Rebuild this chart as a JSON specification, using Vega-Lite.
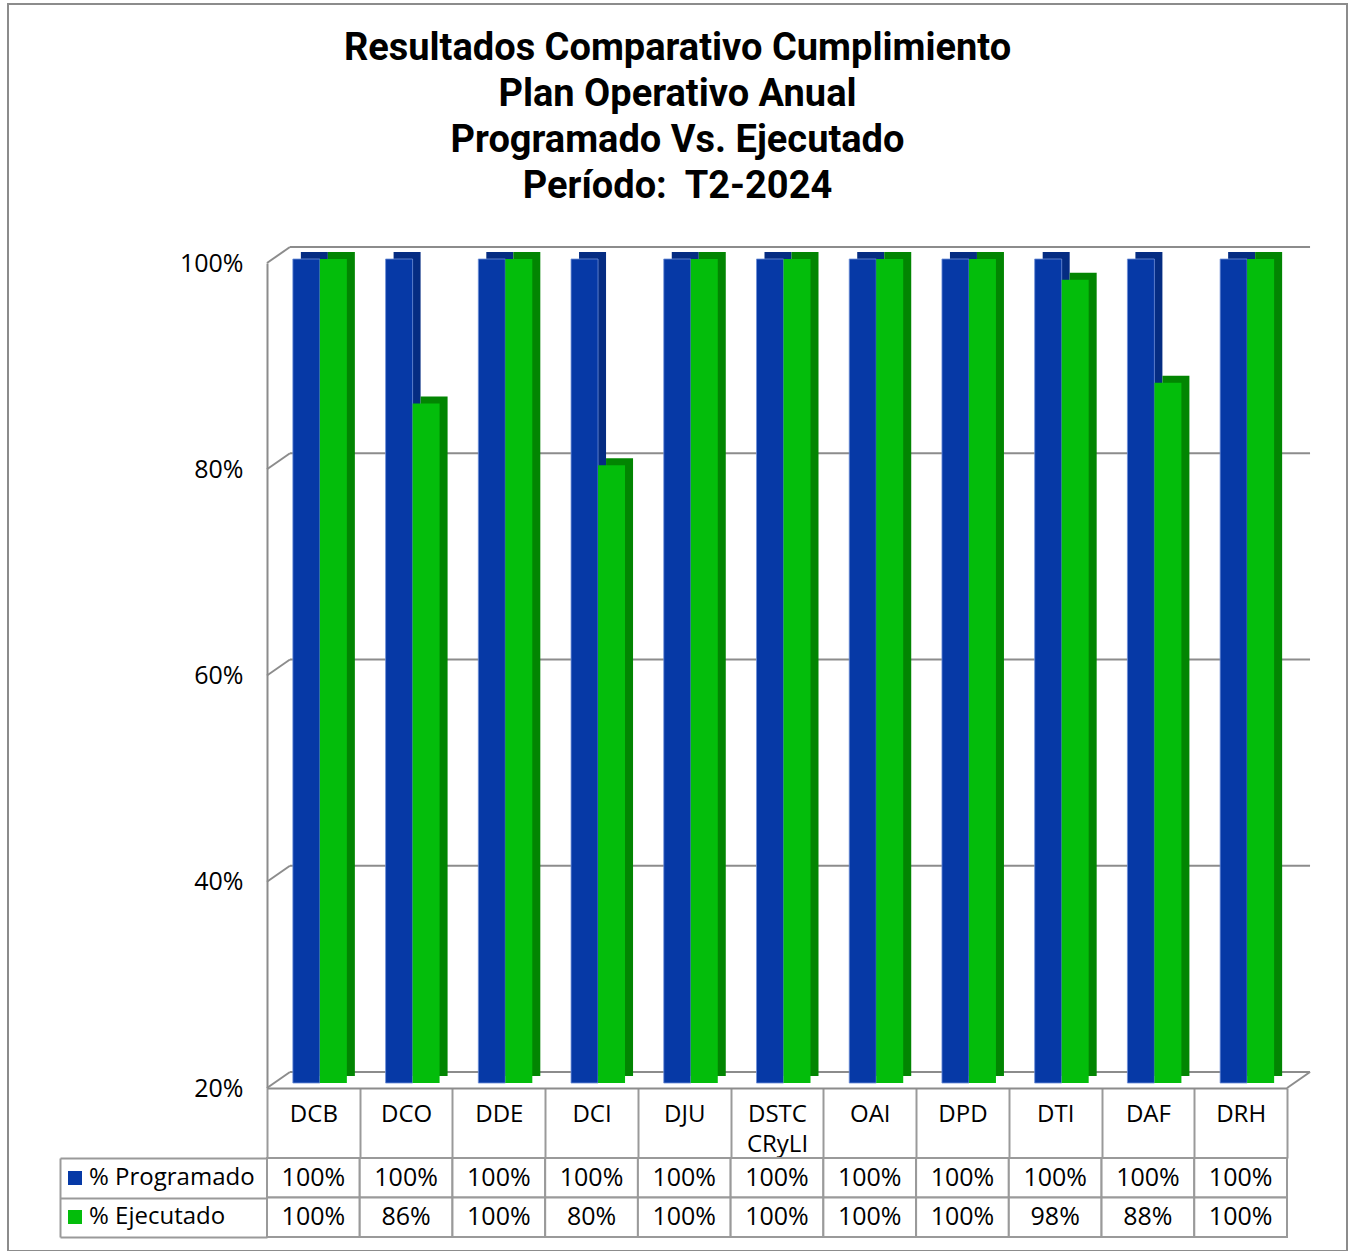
{
  "$schema": "https://vega.github.io/schema/vega-lite/v6.json",
  "width": 1339,
  "height": 1247,
  "autosize": {"type": "none"},
  "padding": {"left": 8, "top": 4, "right": 10, "bottom": 0},
  "background": "white",
  "title": {
    "text": ["Resultados Comparativo Cumplimiento", "Plan Operativo Anual", "Programado Vs. Ejecutado", "Período:\u00a0 T2-2024"],
    "font": "Roboto",
    "fontSize": 38,
    "fontWeight": "bold",
    "color": "black",
    "lineHeight": 46,
    "anchor": "middle",
    "frame": "group",
    "baseline": "bottom",
    "offset": -240
  },
  "config": {
    "view": {"stroke": "#8C8C8C", "strokeWidth": 2},
    "font": "Open Sans",
    "axis": {
      "domainColor": "#8C8C8C",
      "domainWidth": 2,
      "tickColor": "#9A9A9A",
      "tickWidth": 2,
      "labelFont": "Open Sans",
      "labelFontSize": 24,
      "labelColor": "black",
      "grid": false,
      "title": null
    }
  },
  "data": {
    "values": [
      {"cat": "DCB", "serie": "% Programado", "valor": 1.0},
      {"cat": "DCO", "serie": "% Programado", "valor": 1.0},
      {"cat": "DDE", "serie": "% Programado", "valor": 1.0},
      {"cat": "DCI", "serie": "% Programado", "valor": 1.0},
      {"cat": "DJU", "serie": "% Programado", "valor": 1.0},
      {"cat": "DSTC CRyLI", "serie": "% Programado", "valor": 1.0},
      {"cat": "OAI", "serie": "% Programado", "valor": 1.0},
      {"cat": "DPD", "serie": "% Programado", "valor": 1.0},
      {"cat": "DTI", "serie": "% Programado", "valor": 1.0},
      {"cat": "DAF", "serie": "% Programado", "valor": 1.0},
      {"cat": "DRH", "serie": "% Programado", "valor": 1.0},
      {"cat": "DCB", "serie": "% Ejecutado", "valor": 1.0},
      {"cat": "DCO", "serie": "% Ejecutado", "valor": 0.86},
      {"cat": "DDE", "serie": "% Ejecutado", "valor": 1.0},
      {"cat": "DCI", "serie": "% Ejecutado", "valor": 0.80},
      {"cat": "DJU", "serie": "% Ejecutado", "valor": 1.0},
      {"cat": "DSTC CRyLI", "serie": "% Ejecutado", "valor": 1.0},
      {"cat": "OAI", "serie": "% Ejecutado", "valor": 1.0},
      {"cat": "DPD", "serie": "% Ejecutado", "valor": 1.0},
      {"cat": "DTI", "serie": "% Ejecutado", "valor": 0.98},
      {"cat": "DAF", "serie": "% Ejecutado", "valor": 0.88},
      {"cat": "DRH", "serie": "% Ejecutado", "valor": 1.0}
    ]
  },
  "resolve": {"scale": {"y": "independent"}},
  "layer": [
    {
      "layer": [
        {
          "data": {"values": [{"valor": 0.2}, {"valor": 0.4}, {"valor": 0.6}, {"valor": 0.8}, {"valor": 1.0}]},
          "mark": {"type": "rule", "color": "#8C8C8C", "strokeWidth": 2, "xOffset": -23.4, "x2Offset": 69.4, "yOffset": -16, "y2Offset": -16},
          "encoding": {
            "x": {
              "datum": "DCB",
              "type": "nominal",
              "scale": {
                "type": "band",
                "domain": ["DCB", "DCO", "DDE", "DCI", "DJU", "DSTC CRyLI", "OAI", "DPD", "DTI", "DAF", "DRH"],
                "range": [259, 1279],
                "paddingInner": 0,
                "paddingOuter": 0
              },
              "axis": {
                "orient": "bottom",
                "offset": -163,
                "tickBand": "extent",
                "tickSize": 70,
                "labelPadding": -56,
                "labelAngle": 0,
                "labelExpr": "split(datum.label, ' ')",
                "labelLineHeight": 30,
                "labelFontSize": 24,
                "title": null
              }
            },
            "x2": {"datum": "DRH"},
            "y": {
              "field": "valor",
              "type": "quantitative",
              "scale": {"domain": [0.2, 1], "range": [1084, 259], "nice": false, "zero": false},
              "axis": {
                "orient": "left",
                "offset": -259,
                "values": [0.2, 0.4, 0.6, 0.8, 1.0],
                "format": ".0%",
                "ticks": false,
                "labelPadding": 24,
                "labelFontSize": 25,
                "domain": true,
                "title": null
              }
            },
            "y2": {"field": "valor"}
          }
        },
        {
          "data": {"values": [{"valor": 0.2}, {"valor": 0.4}, {"valor": 0.6}, {"valor": 0.8}, {"valor": 1.0}]},
          "mark": {"type": "rule", "color": "#8C8C8C", "strokeWidth": 2, "xOffset": -46.4, "x2Offset": -23.4, "y2Offset": -16},
          "encoding": {
            "x": {"datum": "DCB", "type": "nominal"},
            "x2": {"datum": "DCB"},
            "y": {"field": "valor", "type": "quantitative"},
            "y2": {"field": "valor"}
          }
        },
        {
          "data": {"values": [{"valor": 0.2}]},
          "mark": {"type": "rule", "color": "#8C8C8C", "strokeWidth": 2, "xOffset": 46.4, "x2Offset": 69.4, "y2Offset": -16},
          "encoding": {
            "x": {"datum": "DRH", "type": "nominal"},
            "x2": {"datum": "DRH"},
            "y": {"field": "valor", "type": "quantitative"},
            "y2": {"field": "valor"}
          }
        },
        {
          "transform": [{"filter": "datum.serie == '% Programado'"}],
          "mark": {"type": "bar", "width": 27, "xOffset": 1, "yOffset": -11, "y2Offset": -12, "color": "#052C82"},
          "encoding": {
            "x": {"field": "cat", "type": "nominal"},
            "y": {"field": "valor", "type": "quantitative"},
            "y2": {"datum": 0.2}
          }
        },
        {
          "transform": [{"filter": "datum.serie == '% Ejecutado'"}],
          "mark": {"type": "bar", "width": 27, "xOffset": 28, "yOffset": -11, "y2Offset": -12, "color": "#028502"},
          "encoding": {
            "x": {"field": "cat", "type": "nominal"},
            "y": {"field": "valor", "type": "quantitative"},
            "y2": {"datum": 0.2}
          }
        },
        {
          "transform": [{"filter": "datum.serie == '% Programado'"}],
          "mark": {"type": "bar", "width": 27, "xOffset": -7, "yOffset": -4, "y2Offset": -5, "stroke": "#6F8FD8", "strokeWidth": 0.8},
          "encoding": {
            "x": {"field": "cat", "type": "nominal"},
            "y": {"field": "valor", "type": "quantitative"},
            "y2": {"datum": 0.2},
            "color": {
              "field": "serie",
              "type": "nominal",
              "scale": {"domain": ["% Programado", "% Ejecutado"], "range": ["#0639A6", "#03BD0B"]},
              "legend": {
                "orient": "none",
                "legendX": 55,
                "legendY": 1162,
                "direction": "vertical",
                "title": null,
                "symbolType": "square",
                "symbolSize": 196,
                "symbolStrokeWidth": 0,
                "symbolOpacity": 1,
                "labelFont": "Open Sans",
                "labelFontSize": 24,
                "labelColor": "black",
                "labelOffset": 2,
                "labelLimit": 300,
                "rowPadding": 15
              }
            }
          }
        },
        {
          "transform": [{"filter": "datum.serie == '% Ejecutado'"}],
          "mark": {"type": "bar", "width": 27, "xOffset": 20, "yOffset": -4, "y2Offset": -5},
          "encoding": {
            "x": {"field": "cat", "type": "nominal"},
            "y": {"field": "valor", "type": "quantitative"},
            "y2": {"datum": 0.2},
            "color": {
              "field": "serie",
              "type": "nominal",
              "scale": {"domain": ["% Programado", "% Ejecutado"], "range": ["#0639A6", "#03BD0B"]},
              "legend": {
                "orient": "none",
                "legendX": 55,
                "legendY": 1162,
                "direction": "vertical",
                "title": null,
                "symbolType": "square",
                "symbolSize": 196,
                "symbolStrokeWidth": 0,
                "symbolOpacity": 1,
                "labelFont": "Open Sans",
                "labelFontSize": 24,
                "labelColor": "black",
                "labelOffset": 2,
                "labelLimit": 300,
                "rowPadding": 15
              }
            }
          }
        }
      ]
    },
    {
      "layer": [
        {
          "mark": {"type": "rect", "fill": "white", "stroke": "#9A9A9A", "strokeWidth": 2},
          "encoding": {
            "x": {"field": "cat", "type": "nominal"},
            "y": {
              "field": "serie",
              "type": "nominal",
              "scale": {"type": "band", "domain": ["% Programado", "% Ejecutado"], "range": [1154, 1233], "paddingInner": 0, "paddingOuter": 0},
              "axis": {
                "orient": "left",
                "offset": -52,
                "tickBand": "extent",
                "tickSize": -207,
                "labels": false,
                "domain": true,
                "domainColor": "#9A9A9A",
                "title": null
              }
            }
          }
        },
        {
          "mark": {"type": "text", "font": "Open Sans", "fontSize": 25, "color": "black"},
          "encoding": {
            "x": {"field": "cat", "type": "nominal"},
            "y": {"field": "serie", "type": "nominal"},
            "text": {"field": "valor", "type": "quantitative", "format": ".0%"}
          }
        }
      ]
    }
  ]
}
